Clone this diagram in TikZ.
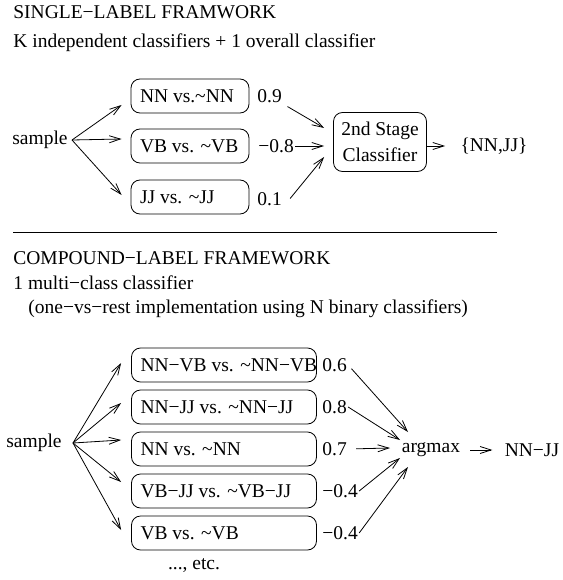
\documentclass[tikz,border=0pt]{standalone}
\usepackage{fontspec}
\setmainfont{Liberation Serif}
\usetikzlibrary{arrows.meta}

\newcommand{\lbl}[2]{\makebox[#1][l]{#2}}

\begin{document}
\begin{tikzpicture}[x=1pt,y=-1pt,line width=0.8pt,
    font=\fontsize{19.5pt}{23pt}\selectfont,
    >={Straight Barb[length=11pt,width=7pt]},
    clsbox/.style={draw,rounded corners=9pt,minimum height=34pt,inner xsep=9pt,inner ysep=0pt},
    plain/.style={inner sep=1pt},
    title/.style={anchor=base west,inner sep=0pt}]
    \useasboundingbox (0,0) rectangle (562,580);
    % Single label
    \node[title] (t1) at (13,19) {SINGLE−LABEL FRAMWORK};
    \node[title] (t2) at (13,48) {K independent classifiers + 1 overall classifier};
    \node[plain,anchor=east] (s1) at (69,140) {sample};
    % Binary classifiers
    \node[clsbox] (a1) at (190,96) {\lbl{100pt}{NN vs.\textasciitilde NN}};
    \node[clsbox] (a2) at (190,146) {\lbl{100pt}{VB vs. \textasciitilde VB}};
    \node[clsbox] (a3) at (190,197) {\lbl{100pt}{JJ vs. \textasciitilde JJ}};
    \node[plain,anchor=west] (v1) at (256,96) {0.9};
    \node[plain,anchor=west] (v2) at (257,146) {−0.8};
    \node[plain,anchor=west] (v3) at (256,199) {0.1};
    % Second stage
    \node[draw,rounded corners=9pt,align=center,minimum width=93pt,minimum height=59pt,inner sep=2pt] (cls) at (380,142) {2nd Stage\\[3pt]Classifier};
    \node[plain] (out) at (494,146) {\{NN,JJ\}};
    % Links
    \draw [->] ([xshift=3pt]s1.east) -- ([xshift=-9pt,yshift=-9pt]a1.west);
    \draw [->] ([xshift=3pt]s1.east) -- ([xshift=-9pt,yshift=7pt]a2.west);
    \draw [->] ([xshift=3pt]s1.east) -- ([xshift=-9pt,yshift=2pt]a3.west);
    \draw [->,shorten <=5pt] (v1.south east) -- ([xshift=-9pt,yshift=14pt]cls.west);
    \draw [->] (v2.east) -- ([xshift=-9pt,yshift=-4pt]cls.west);
    \draw [->,shorten <=11pt] (v3.south east) -- ([xshift=-9pt,yshift=-15pt]cls.west);
    \draw [->,shorten >=14pt] ([yshift=-4pt]cls.east) -- (out.west);

    \draw (13,232) -- (497,232);

    % Compound label
    \node[title] (t3) at (13,264) {COMPOUND−LABEL FRAMEWORK};
    \node[title] (t4) at (13,289) {1 multi−class classifier};
    \node[title] (t5) at (28,313) {(one−vs−rest implementation using N binary classifiers)};
    \node[plain,anchor=east] (s2) at (63,443) {sample};
    % One-vs-rest classifiers
    \node[clsbox] (b1) at (224,365) {\lbl{167pt}{NN−VB vs. \textasciitilde NN−VB}};
    \node[clsbox] (b2) at (224,407) {\lbl{167pt}{NN−JJ vs. \textasciitilde NN−JJ}};
    \node[clsbox] (b3) at (224,449) {\lbl{167pt}{NN vs. \textasciitilde NN}};
    \node[clsbox] (b4) at (224,491) {\lbl{167pt}{VB−JJ vs. \textasciitilde VB−JJ}};
    \node[clsbox] (b5) at (224,533) {\lbl{167pt}{VB vs. \textasciitilde VB}};
    \node[plain] (etc) at (194,566) {..., etc.};
    \node[plain,anchor=west] (w1) at (321,365) {0.6};
    \node[plain,anchor=west] (w2) at (321,407) {0.8};
    \node[plain,anchor=west] (w3) at (321,449) {0.7};
    \node[plain,anchor=west] (w4) at (321,491) {−0.4};
    \node[plain,anchor=west] (w5) at (321,533) {−0.4};
    % Argmax
    \node[plain] (am) at (431,450) {argmax};
    \node[plain] (res) at (532,450) {NN−JJ};
    % Links
    \draw [->] ([xshift=10pt]s2.east) -- ([xshift=-10pt,yshift=2pt]b1.west);
    \draw [->] ([xshift=10pt]s2.east) -- ([xshift=-10pt,yshift=4pt]b2.west);
    \draw [->] ([xshift=10pt]s2.east) -- ([xshift=-10pt,yshift=9pt]b3.west);
    \draw [->] ([xshift=10pt]s2.east) -- ([xshift=-10pt,yshift=9pt]b4.west);
    \draw [->] ([xshift=10pt]s2.east) -- ([xshift=-10pt,yshift=3pt]b5.west);
    \draw [->,shorten <=5pt] (w1.east) -- ([xshift=-23pt,yshift=18pt]am.center);
    \draw [->] (w2.east) -- ([xshift=-31pt,yshift=10pt]am.center);
    \draw [->,shorten <=8pt] (w3.east) -- ([xshift=-41pt,yshift=2pt]am.center);
    \draw [->] (w4.east) -- ([xshift=-31pt,yshift=-8pt]am.center);
    \draw [->] (w5.east) -- ([xshift=-23pt,yshift=-17pt]am.center);
    \draw [->,shorten <=9pt,shorten >=11pt] (am) -- (res);
\end{tikzpicture}
\end{document}
